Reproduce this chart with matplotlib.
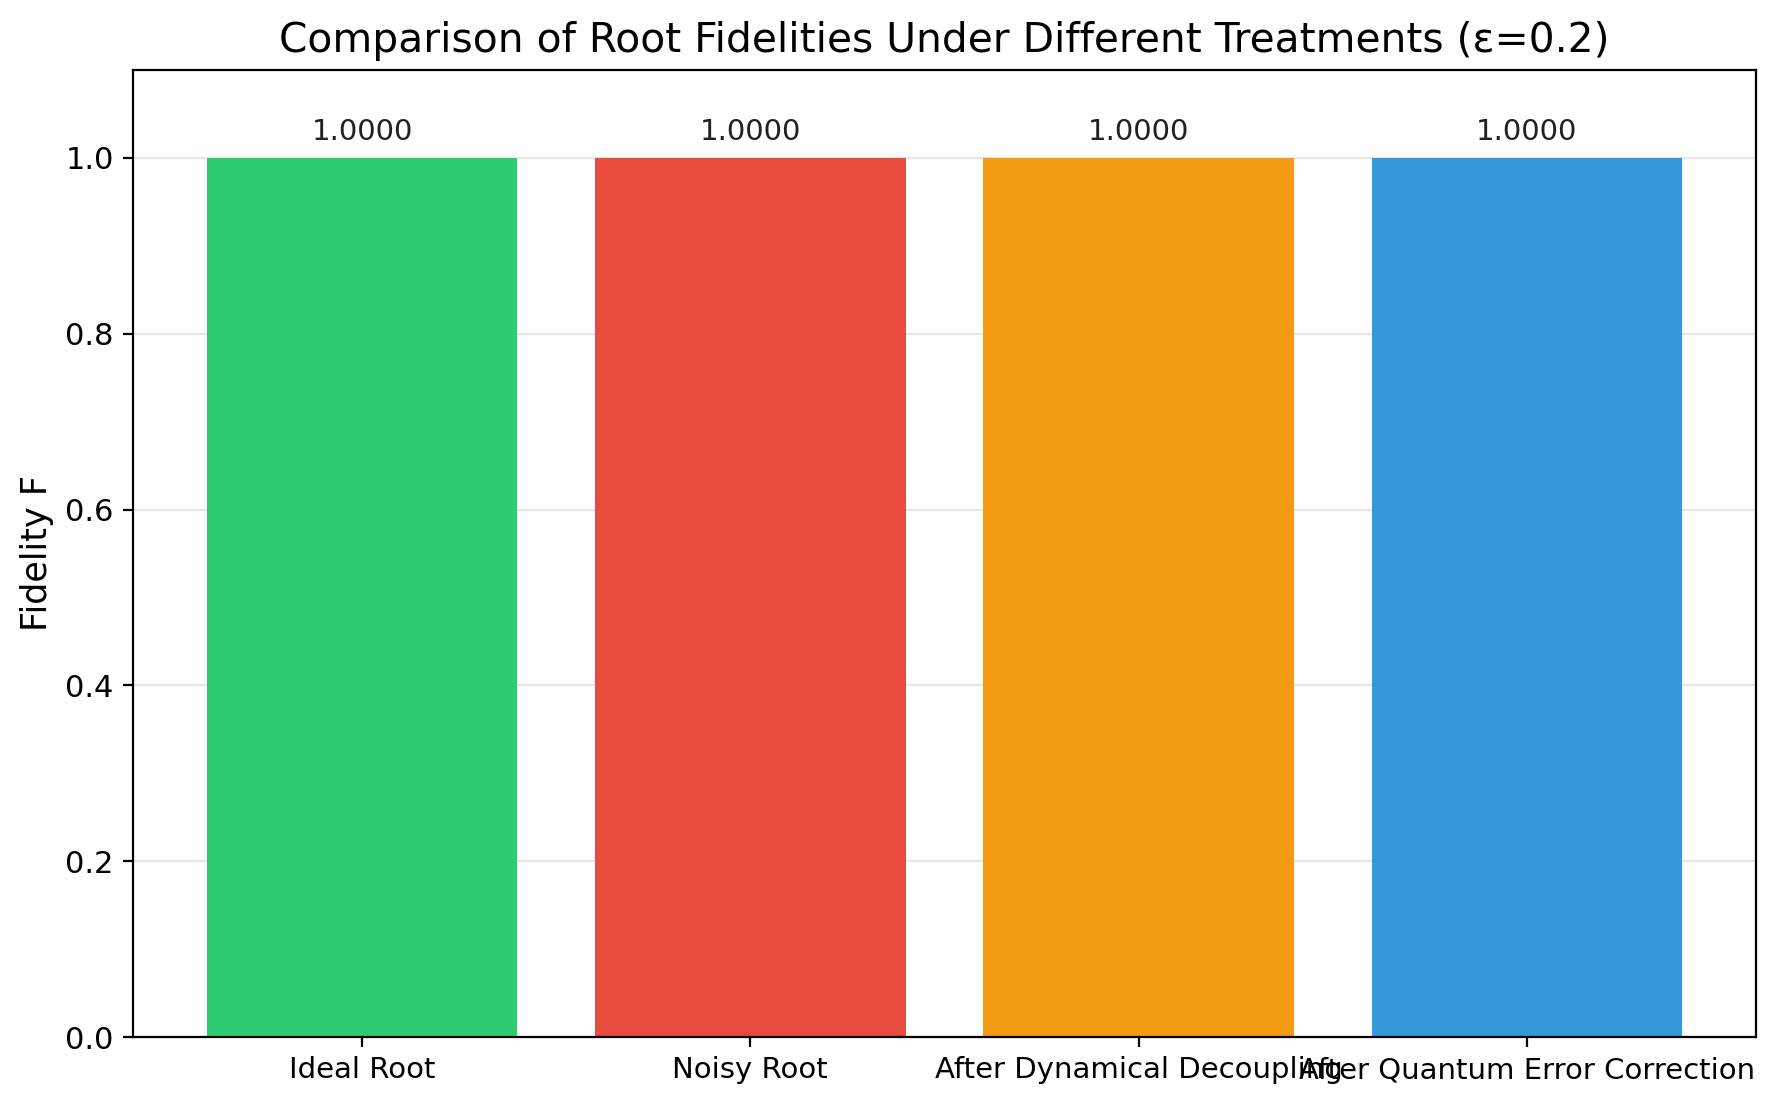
import numpy as np
import matplotlib
matplotlib.use('Agg')
import matplotlib.pyplot as plt

# Data
treatments = ['Ideal Root', 'Noisy Root', 'After Dynamical Decoupling', 'After Quantum Error Correction']
fidelities = [1.0, 1.0, 1.0, 1.0]
colors = ['#2ecc71', '#e74c3c', '#f39c12', '#3498db']

fig = plt.figure(figsize=(1779 / 200, 1105 / 200), dpi=200)
ax = fig.add_axes([0.0748, 0.0615, 0.9122, 0.8752])

x = np.arange(len(treatments))
bars = ax.bar(x, fidelities, width=0.8, color=colors)

for b, v in zip(bars, fidelities):
    ax.text(b.get_x() + b.get_width() / 2, v + 0.013, f'{v:.4f}',
            ha='center', va='bottom', fontsize=10.5, color='#222222')

ax.set_xticks(x)
ax.set_xticklabels(treatments, fontsize=10.5)
ax.tick_params(axis='y', labelsize=11)
ax.set_ylim(0, 1.1)
ax.set_ylabel('Fidelity F', fontsize=12.6)
ax.set_title('Comparison of Root Fidelities Under Different Treatments (ε=0.2)', fontsize=14.7, pad=6.5)
ax.grid(axis='y', alpha=0.3)
ax.set_axisbelow(True)

fig.savefig('out.png', dpi=200)
